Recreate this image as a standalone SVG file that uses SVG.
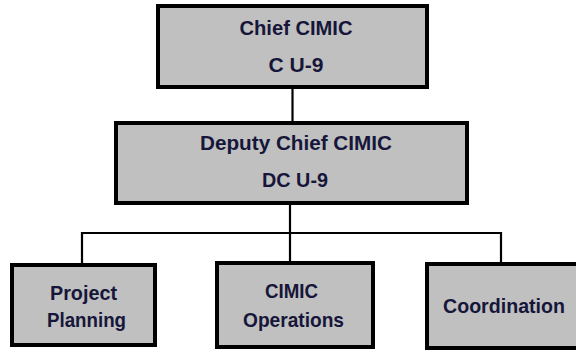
<svg xmlns="http://www.w3.org/2000/svg" width="576" height="351" viewBox="0 0 576 351">
<style>
.box{fill:#c0c0c0;stroke:#000;stroke-width:4}
.t{font-family:"Liberation Sans",Arial,sans-serif;font-weight:bold;fill:#16163a;text-anchor:middle;font-size:20.5px}
.ln{fill:none;stroke:#000;stroke-width:2.2}
</style>
<rect width="576" height="351" fill="#fff"/>
<g id="connectors">
<line class="ln" x1="292.5" y1="87" x2="292.5" y2="123"/>
<line class="ln" x1="290" y1="203" x2="290" y2="263"/>
<polyline class="ln" points="82,265 82,233 501,233 501,264"/>
</g>
<g id="chief">
<rect class="box" x="158" y="6" width="269" height="81"/>
<text class="t" x="296" y="35" textLength="113" lengthAdjust="spacingAndGlyphs">Chief CIMIC</text>
<text class="t" x="296" y="72" textLength="55" lengthAdjust="spacingAndGlyphs">C U-9</text>
</g>
<g id="deputy">
<rect class="box" x="116" y="123" width="351" height="80"/>
<text class="t" x="296" y="150" textLength="192" lengthAdjust="spacingAndGlyphs">Deputy Chief CIMIC</text>
<text class="t" x="295" y="187" textLength="66" lengthAdjust="spacingAndGlyphs">DC U-9</text>
</g>
<g id="project-planning">
<rect class="box" x="12" y="265" width="143" height="80"/>
<text class="t" x="83.5" y="300" textLength="67" lengthAdjust="spacingAndGlyphs">Project</text>
<text class="t" x="86.5" y="327" textLength="79" lengthAdjust="spacingAndGlyphs">Planning</text>
</g>
<g id="cimic-operations">
<rect class="box" x="217" y="263" width="156" height="84"/>
<text class="t" x="291.5" y="298" textLength="53" lengthAdjust="spacingAndGlyphs">CIMIC</text>
<text class="t" x="293.5" y="327" textLength="101" lengthAdjust="spacingAndGlyphs">Operations</text>
</g>
<g id="coordination">
<rect class="box" x="427" y="264" width="160" height="84"/>
<text class="t" x="504" y="313" textLength="122" lengthAdjust="spacingAndGlyphs">Coordination</text>
</g>
</svg>
